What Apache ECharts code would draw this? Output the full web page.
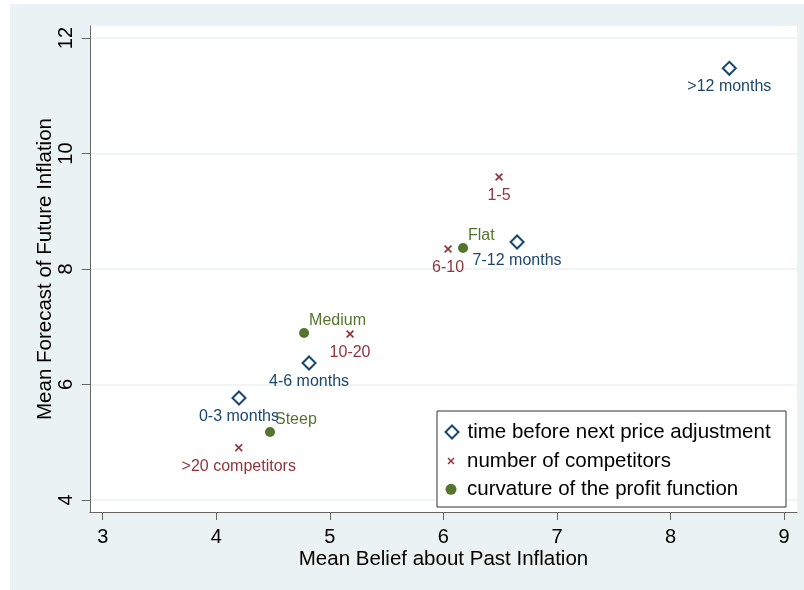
<!DOCTYPE html>
<html>
<head>
<meta charset="utf-8">
<script src="https://cdn.jsdelivr.net/npm/echarts@6/dist/echarts.min.js"></script>
<style>
  html, body { margin: 0; padding: 0; background: #ffffff; }
  #chart { position: absolute; left: 10px; top: 4px; width: 794px; height: 586px; background: #eaf2f3; }
</style>
</head>
<body>
<div id="chart"></div>
<script>
// Axis ticks
const xTicks = [3, 4, 5, 6, 7, 8, 9];
const yTicks = [4, 6, 8, 10, 12];

// Time before next price adjustment
const timeLabels = ['0-3 months', '4-6 months', '7-12 months', '>12 months'];
const timePast = [4.200, 4.817, 6.649, 8.518];
const timeFuture = [5.766, 6.372, 8.467, 11.475];

// Number of competitors
const compLabels = ['>20 competitors', '10-20', '6-10', '1-5'];
const compPast = [4.198, 5.178, 6.041, 6.490];
const compFuture = [4.906, 6.874, 8.346, 9.593];

// Curvature of the profit function
const curvLabels = ['Steep', 'Medium', 'Flat'];
const curvPast = [4.473, 4.773, 6.173];
const curvFuture = [5.177, 6.892, 8.364];

const NAVY = '#1a476f';
const MAROON = '#90353b';
const FOREST = '#55752f';
const FONT = '"Liberation Sans", Arial, Helvetica, sans-serif';

const SERIES_TIME = 'time before next price adjustment';
const SERIES_COMP = 'number of competitors';
const SERIES_CURV = 'curvature of the profit function';

// Small thick "x" marker
const CROSS = 'path://M0,1.5 L1.5,0 L5,3.5 L8.5,0 L10,1.5 L6.5,5 L10,8.5 L8.5,10 L5,6.5 L1.5,10 L0,8.5 L3.5,5 Z';

function points(xs, ys, names) {
  return xs.map((x, i) => ({ value: [x, ys[i]], name: names[i] }));
}

const chart = echarts.init(document.getElementById('chart'), null, { renderer: 'canvas' });

const legendText = (pad) => ({
  fontFamily: FONT, fontSize: 20.5, color: '#000', padding: [0, 0, 0, pad]
});

chart.setOption({
  animation: false,
  textStyle: { fontFamily: FONT },
  grid: {
    left: 80, top: 22, right: 7, bottom: 78,
    show: true, backgroundColor: '#ffffff', borderWidth: 0
  },
  xAxis: {
    type: 'value',
    min: 2.888, max: 9.114,
    name: 'Mean Belief about Past Inflation',
    nameLocation: 'middle',
    nameGap: 37,
    nameMoveOverlap: false,
    nameTextStyle: { fontFamily: FONT, fontSize: 20.5, color: '#000' },
    axisLine: { show: true, lineStyle: { color: '#666', width: 1 } },
    axisTick: { show: true, length: 8, customValues: xTicks, lineStyle: { color: '#666' } },
    axisLabel: { customValues: xTicks, margin: 15, fontFamily: FONT, fontSize: 20, color: '#000' },
    splitLine: { show: false }
  },
  yAxis: {
    type: 'value',
    min: 3.792, max: 12.208,
    name: 'Mean Forecast of Future Inflation',
    nameLocation: 'middle',
    nameGap: 34,
    nameMoveOverlap: false,
    nameTextStyle: { fontFamily: FONT, fontSize: 20.5, color: '#000' },
    axisLine: { show: true, lineStyle: { color: '#666', width: 1 } },
    axisTick: { show: true, length: 8, customValues: yTicks, lineStyle: { color: '#666' } },
    axisLabel: { customValues: yTicks, rotate: 90, margin: 14, fontFamily: FONT, fontSize: 20, color: '#000' },
    splitLine: { show: true, lineStyle: { color: '#eaf2f3', width: 1.5 } }
  },
  graphic: [{
    type: 'rect',
    z: 3,
    shape: { x: 427, y: 407, width: 349, height: 96 },
    style: { fill: '#ffffff', stroke: '#333333', lineWidth: 1 }
  }],
  legend: [
    {
      data: [SERIES_TIME], left: 434.5, top: 417.5, padding: 0,
      itemWidth: 13, itemHeight: 13, icon: 'diamond',
      itemStyle: { color: '#ffffff', borderColor: NAVY, borderWidth: 2 },
      textStyle: legendText(4), z: 5
    },
    {
      data: [SERIES_COMP], left: 437.5, top: 446.5, padding: 0,
      itemWidth: 7, itemHeight: 7, icon: CROSS,
      itemStyle: { color: MAROON, borderWidth: 0 },
      textStyle: legendText(7.5), z: 5
    },
    {
      data: [SERIES_CURV], left: 435.5, top: 474.8, padding: 0,
      itemWidth: 11, itemHeight: 11, icon: 'circle',
      itemStyle: { color: FOREST, borderWidth: 0 },
      textStyle: legendText(5.5), z: 5
    }
  ],
  series: [
    {
      name: SERIES_TIME,
      type: 'scatter',
      symbol: 'diamond',
      symbolSize: 13,
      itemStyle: { color: '#ffffff', borderColor: NAVY, borderWidth: 2, opacity: 1 },
      label: {
        show: true, formatter: '{b}', position: 'inside', offset: [0, 18.5],
        color: NAVY, fontFamily: FONT, fontSize: 16
      },
      data: points(timePast, timeFuture, timeLabels)
    },
    {
      name: SERIES_COMP,
      type: 'scatter',
      symbol: CROSS,
      symbolSize: 8,
      itemStyle: { color: MAROON, opacity: 1 },
      label: {
        show: true, formatter: '{b}', position: 'inside', offset: [0, 18.5],
        color: MAROON, fontFamily: FONT, fontSize: 16
      },
      data: points(compPast, compFuture, compLabels)
    },
    {
      name: SERIES_CURV,
      type: 'scatter',
      symbol: 'circle',
      symbolSize: 10,
      itemStyle: { color: FOREST, opacity: 1 },
      label: {
        show: true, formatter: '{b}', position: 'right', distance: 0, offset: [0, -12],
        color: FOREST, fontFamily: FONT, fontSize: 16
      },
      data: points(curvPast, curvFuture, curvLabels)
    }
  ]
});
</script>
</body>
</html>
